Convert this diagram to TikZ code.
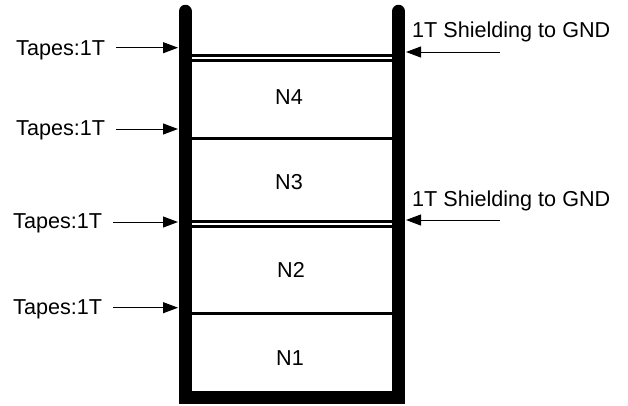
\documentclass[tikz,border=0pt]{standalone}
\usepackage{fontspec}
\setmainfont{Liberation Sans}
\usetikzlibrary{arrows.meta}

\begin{document}
\begin{tikzpicture}[x=1pt, y=-1pt,
    lbl/.style={inner sep=0pt, font=\fontsize{21.6}{26}\selectfont},
    wall/.style={line width=13.5pt, line cap=round, line join=miter},
    tape/.style={line width=2.7pt},
    shield/.style={double, line width=3pt, double distance=2pt},
    feed/.style={line width=1pt, -{Triangle[length=15pt, width=11pt]}}]
  \useasboundingbox (0,0) rectangle (628,405);
  \coordinate (wtl) at (185.3,11.5);
  \coordinate (wbl) at (185.3,397.5);
  \coordinate (wbr) at (398.5,397.5);
  \coordinate (wtr) at (398.5,11.5);
  % layer boundaries
  \coordinate (la) at (185.3,57.5);  \coordinate (ra) at (398.5,57.5);
  \coordinate (lb) at (185.3,138.7); \coordinate (rb) at (398.5,138.7);
  \coordinate (lc) at (185.3,224);   \coordinate (rc) at (398.5,224);
  \coordinate (ld) at (185.3,313.4); \coordinate (rd) at (398.5,313.4);
  \draw[shield] (la) -- (ra);
  \draw[tape] (lb) -- (rb);
  \draw[shield] (lc) -- (rc);
  \draw[tape] (ld) -- (rd);
  \draw[wall] (wtl) -- (wbl) -- (wbr) -- (wtr);
  \node[lbl, anchor=base] (n4) at (289,104) {N4};
  \node[lbl, anchor=base] (n3) at (289,189.3) {N3};
  \node[lbl, anchor=base] (n2) at (291,277.7) {N2};
  \node[lbl, anchor=base] (n1) at (290,365) {N1};
  % tapes on the left
  \node[lbl, anchor=base west] (tape4) at (16,55) {Tapes:1T};
  \node[lbl, anchor=base west] (tape3) at (16,135.7) {Tapes:1T};
  \node[lbl, anchor=base west] (tape2) at (13,228.3) {Tapes:1T};
  \node[lbl, anchor=base west] (tape1) at (13,314) {Tapes:1T};
  \coordinate (t4) at (178,47.7);
  \coordinate (t3) at (178,129);
  \coordinate (t2) at (178,222);
  \coordinate (t1) at (178,307.7);
  \draw[feed, shorten <=11pt] (tape4.east |- t4) -- (t4);
  \draw[feed, shorten <=11pt] (tape3.east |- t3) -- (t3);
  \draw[feed, shorten <=11pt] (tape2.east |- t2) -- (t2);
  \draw[feed, shorten <=11pt] (tape1.east |- t1) -- (t1);
  % shielding on the right
  \node[lbl, anchor=base west] (gnd4) at (412,37.3) {1T Shielding to GND};
  \node[lbl, anchor=base west] (gnd2) at (412,206) {1T Shielding to GND};
  \coordinate (g4) at (500,52);
  \coordinate (g2) at (500,220);
  \coordinate (s4) at (406,52);
  \coordinate (s2) at (406,220);
  \draw[feed] (g4) -- (s4);
  \draw[feed] (g2) -- (s2);
\end{tikzpicture}
\end{document}
